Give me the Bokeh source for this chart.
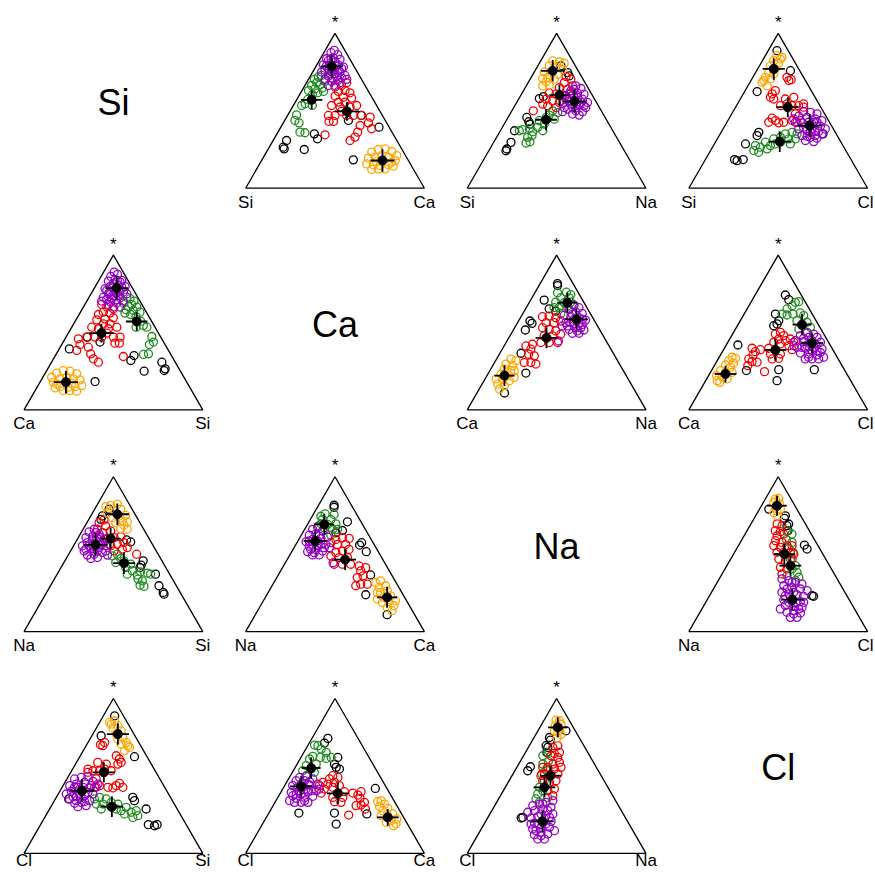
import math
from bokeh.plotting import figure
from bokeh.models import Range1d
from bokeh.embed import file_html
from bokeh.resources import INLINE
from bokeh.core.properties import value

# ---------------- data ----------------
PARTS = ["Si", "Ca", "Na", "Cl"]
GROUPS = ["black", "green", "red", "purple", "orange"]
MEAN_GROUPS = ["green", "red", "purple", "orange"]
COLORS = {"black": "#000000", "green": "#1f8c1f", "red": "#f00000",
          "purple": "#9400c4", "orange": "#ffa500"}

# Shares in percent for each pair (left part, right part, * = rest).
# right = share of the second part, top = share of "*"; left = 100 - right - top.

# --- Si / Ca ---
si_ca_black_right = [7.5, 7.8, 8.9, 20.3, 20.9, 24.3, 35.6, 41.1, 54.9, 51.1]
si_ca_black_top = [30.8, 26.5, 25.4, 25.0, 35.1, 31.9, 43.8, 47.0, 39.4, 18.3]
si_ca_green_right = [3.3, 4.8, 6.1, 5.7, 3.7, 8.2, 9.9, 6.7, 3.6, 9.5, 7.2, 12.3, 6.0, 4.6, 10.6, 6.1, 4.8, 5.7, 8.8, 12.3, 15.3, 10.6]
si_ca_green_top = [70.3, 71.8, 72.8, 68.1, 66.4, 66.8, 69.0, 64.2, 63.1, 61.6, 60.3, 62.5, 54.5, 53.4, 53.4, 57.3, 47.4, 43.8, 42.2, 36.2, 35.8, 64.7]
si_ca_red_right = [17.4, 20.5, 22.5, 20.7, 24.1, 27.6, 20.3, 25.3, 30.2, 24.1, 27.8, 21.4, 26.6, 32.2, 35.4, 22.8, 26.5, 25.1, 27.6, 33.0, 36.8, 41.4, 46.7, 47.6, 51.3, 44.6, 44.7, 43.0, 43.8, 27.2, 28.9]
si_ca_red_top = [65.3, 66.4, 68.1, 62.5, 63.1, 61.6, 59.5, 58.8, 58.2, 55.6, 55.6, 53.4, 52.4, 52.4, 53.4, 47.0, 47.0, 43.1, 43.1, 47.0, 47.0, 47.0, 45.9, 42.2, 38.4, 36.2, 33.0, 30.8, 40.5, 34.5, 49.6]
si_ca_purple_right = [5.1, 4.0, 8.4, 3.5, 7.0, 11.2, 3.6, 7.0, 12.0, 15.6, 6.3, 10.8, 15.3, 5.0, 10.1, 15.1, 19.2, 13.6, 18.8, 21.4, 9.3, 16.8, 13.1, 18.1, 11.2, 7.1,
                      6.0, 9.3, 5.0, 10.3, 13.8, 10.2, 12.7, 16.7, 15.1, 5.7, 13.0, 8.6]
si_ca_purple_top = [89.0, 87.5, 86.2, 83.6, 84.1, 83.2, 79.7, 80.4, 79.7, 78.2, 76.1, 75.4, 75.0, 75.0, 72.4, 71.8, 72.8, 69.0, 68.1, 70.3, 70.3, 66.4, 66.4, 71.3, 78.9, 77.6,
                    83.6, 81.5, 82.5, 77.6, 76.1, 73.9, 73.9, 69.6, 77.2, 79.3, 71.1, 76.1]
si_ca_orange_right = [58.9, 61.8, 65.3, 69.9, 74.0, 59.0, 62.4, 69.9, 74.7, 59.9, 63.9, 67.9, 72.3, 75.5, 64.5, 68.0, 71.8, 65.6, 64.7, 73.3]
si_ca_orange_top = [23.3, 25.0, 25.4, 23.7, 21.1, 19.4, 20.0, 20.0, 17.9, 15.7, 15.1, 14.7, 15.1, 14.2, 12.1, 12.5, 12.5, 21.1, 17.2, 16.8]
si_ca_mean_right = [8.4, 31.9, 8.8, 67.6]
si_ca_mean_top = [57.1, 49.6, 78.7, 17.9]
si_ca_sd_h = [6.0, 6.9, 6.3, 6.7]
si_ca_sd_v = [5.2, 5.2, 6.5, 6.3]

# --- Si / Na ---
si_na_black_right = [11.4, 13.0, 18.8, 20.8, 12.9, 10.5, 13.0, 14.4, 7.9, 9.7, 9.5, 9.6]
si_na_black_top = [57.9, 59.2, 74.7, 72.5, 79.0, 45.7, 42.9, 41.4, 37.1, 29.6, 25.3, 24.2]
si_na_green_right = [22.8, 26.2, 22.3, 21.3, 26.4, 18.5, 22.4, 19.8, 15.5, 12.1, 18.4, 23.7, 17.4, 19.3, 20.1, 18.3, 10.6]
si_na_green_top = [50.0, 48.9, 47.2, 45.7, 44.6, 43.6, 41.4, 39.3, 38.6, 37.8, 36.5, 37.1, 32.8, 33.9, 30.0, 29.2, 37.1]
si_na_red_right = [19.2, 22.8, 20.2, 25.9, 19.0, 24.2, 15.2, 19.3, 23.3, 15.4, 19.6, 23.8, 18.4, 23.6, 12.0, 27.3, 15.1]
si_na_red_top = [72.1, 70.4, 68.2, 66.1, 65.0, 63.9, 61.4, 60.7, 60.1, 57.5, 56.4, 55.4, 53.2, 52.1, 50.0, 61.4, 54.3]
si_na_purple_right = [27.7, 31.4, 26.5, 31.0, 35.0, 25.3, 30.6, 35.8, 39.6, 26.6, 30.8, 35.8, 40.3, 30.6, 35.8, 39.8, 28.6, 35.0, 39.0, 28.9, 33.8,
                      29.0, 32.4, 27.4, 32.9, 35.9, 34.2, 26.8, 38.8, 27.9, 28.3]
si_na_purple_top = [66.1, 64.4, 62.9, 61.4, 60.7, 59.7, 58.6, 57.5, 55.4, 55.4, 54.3, 53.6, 52.1, 51.1, 50.0, 49.4, 49.4, 47.9, 47.2, 56.4, 55.8,
                    60.7, 58.6, 57.5, 52.1, 55.4, 53.2, 60.7, 53.2, 63.9, 52.1]
si_na_orange_right = [6.7, 10.8, 13.9, 6.4, 10.4, 14.9, 5.6, 9.5, 13.8, 6.8, 9.3, 13.5, 9.2, 12.7, 9.8]
si_na_orange_top = [82.2, 81.5, 80.7, 79.0, 78.5, 76.8, 75.1, 74.7, 73.6, 70.8, 71.5, 70.4, 66.1, 66.5, 68.7]
si_na_mean_right = [22.0, 21.5, 32.0, 9.9]
si_na_mean_top = [44.2, 60.1, 56.0, 75.8]
si_na_sd_h = [6.1, 5.6, 6.7, 6.5]
si_na_sd_v = [6.0, 6.0, 6.5, 6.0]

# --- Si / Cl ---
si_cl_black_right = [4.9, 18.9, 7.0, 21.1, 21.2, 17.4, 16.3, 18.1, 21.2, 57.5]
si_cl_black_top = [88.8, 75.9, 62.4, 36.1, 34.0, 28.6, 18.5, 17.8, 18.5, 35.1]
si_cl_green_right = [36.5, 39.7, 43.0, 40.0, 43.7, 34.8, 31.6, 28.0, 31.9, 26.8, 23.5, 24.2, 27.5, 31.1, 36.4, 42.5, 34.1]
si_cl_green_top = [35.1, 36.1, 35.1, 31.8, 31.8, 32.9, 31.8, 29.7, 27.5, 26.5, 27.5, 24.3, 23.2, 25.4, 29.7, 28.6, 28.6]
si_cl_red_right = [19.1, 22.2, 21.2, 16.9, 16.2, 18.7, 16.3, 25.2, 29.4, 27.7, 31.1, 34.8, 37.0, 24.6, 24.0, 26.6, 29.2, 31.8, 23.4, 35.9, 39.2, 38.1, 35.6]
si_cl_red_top = [71.6, 70.1, 69.5, 63.0, 60.9, 57.6, 58.7, 57.6, 58.7, 54.4, 53.3, 53.3, 54.4, 53.3, 45.2, 43.7, 42.2, 42.6, 42.6, 43.7, 42.6, 52.3, 48.0]
si_cl_purple_right = [39.5, 43.5, 47.7, 38.2, 43.2, 48.4, 52.6, 38.3, 42.2, 48.2, 53.6, 57.2, 42.3, 47.5, 52.5, 57.0, 46.3, 51.5, 55.5, 49.8, 54.8, 36.3,
                      45.7, 48.5, 44.5, 49.8, 50.4, 50.0, 49.4, 54.3, 40.6, 53.8]
si_cl_purple_top = [49.5, 49.0, 48.0, 46.5, 45.8, 44.7, 43.7, 42.6, 42.2, 41.5, 40.0, 38.3, 38.3, 37.2, 36.6, 35.1, 34.0, 32.9, 32.3, 30.8, 30.1, 44.7,
                    42.6, 42.6, 39.4, 38.3, 42.6, 36.1, 33.5, 36.6, 43.7, 34.0]
si_cl_orange_right = [6.5, 9.9, 6.3, 9.8, 6.1, 9.9, 7.3, 10.6, 7.0, 10.4, 6.8, 10.7, 7.2, 9.5]
si_cl_orange_top = [85.6, 84.5, 82.4, 80.9, 79.1, 77.0, 74.8, 73.8, 71.6, 70.5, 68.4, 66.2, 69.5, 83.4]
si_cl_mean_right = [35.8, 29.2, 47.4, 9.0]
si_cl_mean_top = [30.1, 52.3, 40.4, 77.0]
si_cl_sd_h = [6.2, 6.2, 6.9, 6.2]
si_cl_sd_v = [5.8, 5.6, 6.5, 6.0]

# --- Ca / Na ---
ca_na_black_right = [9.7, 10.4, 7.6, 13.2, 17.6, 6.4, 8.3, 6.7, 11.8, 20.9, 15.4]
ca_na_black_top = [81.6, 80.3, 70.9, 65.3, 63.8, 57.4, 55.9, 51.6, 36.6, 23.8, 10.9]
ca_na_green_right = [12.7, 17.5, 20.7, 16.1, 20.8, 14.7, 19.6, 23.1, 18.4, 22.5, 21.2, 15.6, 25.2]
ca_na_green_top = [75.6, 76.0, 74.5, 72.4, 72.4, 69.6, 69.2, 69.6, 66.0, 67.0, 62.3, 66.0, 68.1]
ca_na_red_right = [12.0, 15.5, 19.8, 15.9, 20.5, 23.6, 15.6, 19.8, 24.0, 27.9, 23.8, 19.1, 19.5, 24.1, 15.3, 16.0, 12.2, 16.3, 20.1, 20.3, 23.6, 16.6, 28.8]
ca_na_red_top = [60.2, 60.6, 59.5, 56.3, 56.3, 57.4, 53.1, 52.0, 51.0, 48.8, 47.8, 47.8, 43.5, 43.5, 42.4, 39.2, 41.3, 36.0, 34.9, 30.6, 29.6, 30.6, 43.5]
ca_na_purple_right = [26.0, 29.5, 24.5, 29.1, 33.2, 23.7, 27.8, 32.8, 37.2, 27.0, 31.8, 36.8, 31.0, 36.1, 39.5, 34.1, 37.8, 26.1, 28.8,
                      30.5, 34.4, 29.8, 34.2, 37.0, 28.0, 35.2, 28.9]
ca_na_purple_top = [67.5, 66.0, 64.9, 63.2, 62.3, 61.0, 60.2, 59.5, 58.0, 56.3, 55.9, 55.2, 52.0, 51.0, 51.6, 49.5, 49.5, 54.2, 44.5,
                    58.5, 56.3, 56.3, 53.1, 53.1, 61.7, 58.5, 54.2]
ca_na_orange_right = [8.1, 11.4, 6.9, 11.2, 7.6, 11.8, 7.4, 11.6, 6.2, 10.1, 14.2, 8.7, 13.0, 11.3, 15.8, 13.7]
ca_na_orange_top = [32.8, 31.7, 29.6, 28.5, 26.3, 25.3, 23.1, 22.1, 19.9, 19.5, 18.8, 16.7, 15.6, 13.5, 21.0, 25.3]
ca_na_mean_right = [21.4, 21.1, 31.8, 9.8]
ca_na_mean_top = [69.2, 46.5, 58.5, 22.1]
ca_na_sd_h = [5.6, 6.1, 6.5, 5.6]
ca_na_sd_v = [5.8, 5.8, 5.8, 5.8]

# --- Ca / Cl ---
ca_cl_black_right = [16.9, 20.3, 17.5, 21.5, 21.6, 20.3, 6.5, 19.5, 37.3, 39.9, 57.2]
ca_cl_black_top = [74.2, 71.2, 61.9, 57.6, 55.5, 54.4, 41.9, 25.4, 26.0, 18.9, 26.0]
ca_cl_green_right = [24.8, 26.5, 24.1, 22.3, 21.2, 24.3, 27.3, 31.1, 33.8, 31.7, 37.8, 36.1, 41.4, 35.4, 41.1]
ca_cl_green_top = [69.5, 69.9, 67.3, 65.2, 61.9, 61.3, 61.9, 62.6, 60.9, 57.6, 56.6, 54.4, 53.3, 52.3, 50.1]
ca_cl_red_right = [23.9, 26.2, 29.1, 27.4, 31.7, 33.9, 25.7, 29.9, 35.2, 38.3, 24.8, 29.0, 27.6, 33.2, 33.6, 30.2, 20.6, 18.4, 15.5, 18.2, 17.1, 19.8, 22.8, 18.7, 30.0, 36.9]
ca_cl_red_top = [49.0, 50.1, 48.0, 45.8, 44.7, 45.8, 43.7, 42.6, 41.5, 38.9, 39.8, 38.9, 36.1, 36.1, 33.3, 32.9, 38.9, 37.6, 39.8, 35.5, 32.9, 31.2, 30.8, 28.6, 24.7, 43.7]
ca_cl_purple_right = [41.3, 45.3, 38.4, 43.6, 48.3, 37.3, 42.2, 46.6, 51.8, 40.3, 45.3, 49.6, 54.8, 44.0, 49.0, 54.0, 48.7, 52.5, 56.2, 38.0, 58.4,
                      46.7, 49.5, 45.4, 49.8, 52.6, 43.1, 50.0, 55.0, 41.1]
ca_cl_purple_top = [49.7, 49.0, 48.0, 46.9, 46.9, 44.7, 44.1, 44.7, 43.7, 40.4, 39.8, 40.4, 39.4, 36.8, 36.1, 35.5, 32.9, 32.9, 32.9, 41.5, 34.0,
                    42.6, 42.6, 41.5, 38.3, 38.3, 40.4, 34.0, 37.2, 46.2]
ca_cl_orange_right = [7.2, 9.5, 6.4, 9.9, 6.0, 9.6, 5.0, 8.4, 4.4, 8.1, 6.4, 11.4, 12.1, 8.4]
ca_cl_orange_top = [34.0, 33.3, 31.8, 30.3, 29.0, 27.5, 25.4, 24.3, 22.2, 21.1, 18.9, 20.0, 24.3, 17.8]
ca_cl_mean_right = [35.8, 29.1, 47.3, 8.9]
ca_cl_mean_top = [55.1, 38.7, 43.2, 23.2]
ca_cl_sd_h = [5.3, 6.1, 6.3, 6.1]
ca_cl_sd_v = [6.0, 6.0, 5.8, 4.7]

# --- Na / Cl ---
na_cl_black_right = [5.2, 16.6, 16.9, 20.7, 21.1, 22.9, 36.7, 39.5, 57.3, 58.4]
na_cl_black_top = [79.1, 74.8, 73.1, 68.4, 69.5, 65.2, 55.9, 53.3, 23.2, 22.8]
na_cl_green_right = [22.3, 26.2, 24.9, 28.9, 29.0, 32.7, 33.4, 38.3, 37.5, 41.4, 44.0, 43.2, 36.9]
na_cl_green_top = [65.2, 63.0, 59.4, 57.6, 53.8, 51.2, 46.9, 42.6, 40.4, 38.3, 35.1, 32.9, 36.1]
na_cl_red_right = [14.6, 17.9, 15.8, 19.0, 18.4, 21.6, 19.1, 23.3, 19.8, 24.0, 27.2, 30.0, 23.7, 27.5, 31.2, 26.9, 31.1, 34.3, 30.5, 34.7, 33.5, 33.7]
na_cl_red_top = [69.5, 68.4, 65.2, 64.5, 61.9, 63.0, 58.7, 57.6, 55.5, 54.4, 55.5, 55.5, 51.2, 51.2, 51.2, 46.9, 45.8, 46.9, 41.5, 40.4, 37.2, 50.1]
na_cl_purple_right = [35.1, 39.5, 43.7, 47.9, 38.3, 43.4, 48.7, 52.9, 39.4, 43.8, 48.7, 52.8, 42.8, 47.7, 52.7, 45.6, 50.6, 55.5, 48.7, 53.0, 56.4, 52.2, 55.9, 43.9,
                      41.2, 46.0, 45.7, 51.1, 46.5, 52.0, 54.2, 42.4, 54.8, 41.8]
na_cl_purple_top = [34.0, 32.9, 31.8, 30.8, 29.7, 28.6, 27.5, 26.5, 25.4, 24.3, 23.7, 22.8, 20.6, 20.0, 19.4, 16.8, 16.3, 15.7, 12.5, 11.4, 12.0, 9.2, 9.2, 14.6,
                    27.5, 25.4, 22.2, 18.9, 18.9, 13.5, 14.6, 23.2, 18.9, 31.8]
na_cl_orange_right = [5.6, 7.3, 5.8, 9.6, 8.3, 10.3, 11.7, 9.1, 12.4]
na_cl_orange_top = [85.6, 86.0, 83.4, 82.4, 80.2, 78.1, 79.1, 76.8, 74.6]
na_cl_mean_right = [35.5, 28.4, 47.6, 8.7]
na_cl_mean_top = [42.6, 50.1, 20.6, 81.3]
na_cl_sd_h = [6.1, 5.9, 6.3, 5.4]
na_cl_sd_v = [5.6, 5.6, 6.0, 5.6]

# ---------------- assemble ----------------
G = globals()
PAIRS = [(0, 1), (0, 2), (0, 3), (1, 2), (1, 3), (2, 3)]


def pair_data(i, j):
    key = PARTS[i].lower() + "_" + PARTS[j].lower()
    d = {"groups": {}}
    for g in GROUPS:
        d["groups"][g] = (G[key + "_" + g + "_right"], G[key + "_" + g + "_top"])
    d["mean"] = (G[key + "_mean_right"], G[key + "_mean_top"])
    d["sd"] = (G[key + "_sd_h"], G[key + "_sd_v"])
    return d


# layout (pixel positions of the triangles in the page)
COL_X0 = [23.5, 245.1, 466.7, 688.3]
ROW_Y0 = [187.7, 409.4, 631.1, 852.8]
SIDE = 178.8
H = math.sqrt(3) / 2
FONT = value("Liberation Sans")
W_PX, H_PX = 875, 872

p = figure(width=W_PX, height=H_PX, x_range=Range1d(0, W_PX), y_range=Range1d(-H_PX, 0),
           output_backend="svg", toolbar_location=None, min_border=0,
           x_axis_type=None, y_axis_type=None)
p.grid.visible = False
p.outline_line_color = None
p.background_fill_color = "white"
p.border_fill_color = "white"


def to_xy(row, col, right, top):
    x0, y0 = COL_X0[col], ROW_Y0[row]
    xs = [x0 + SIDE * (r + t / 2.0) / 100.0 for r, t in zip(right, top)]
    ys = [-(y0 - SIDE * H * t / 100.0) for t in top]
    return xs, ys


tri_xs, tri_ys = [], []
lab_x, lab_y, lab_t = [], [], []
star_x, star_y = [], []
for row in range(4):
    for col in range(4):
        x0, y0 = COL_X0[col], ROW_Y0[row]
        if row == col:
            continue
        tri_xs.append([x0, x0 + SIDE, x0 + SIDE / 2, x0])
        tri_ys.append([-y0, -y0, -(y0 - SIDE * H), -y0])
        base = min(y0 + 14, H_PX - 12)
        lab_x += [x0, min(x0 + SIDE, W_PX - 10)]
        lab_y += [-base, -base]
        lab_t += [PARTS[row], PARTS[col]]
        star_x.append(x0 + SIDE / 2)
        star_y.append(-(y0 - SIDE * H - 11))

p.multi_line(tri_xs, tri_ys, line_color="black", line_width=1.3)

for (i, j) in PAIRS:
    d = pair_data(i, j)
    for mirrored in (False, True):
        row, col = (j, i) if mirrored else (i, j)
        for g in GROUPS:
            right, top = d["groups"][g]
            if mirrored:
                right = [100.0 - r - t for r, t in zip(right, top)]
            xs, ys = to_xy(row, col, right, top)
            p.scatter(xs, ys, marker="circle", size=8, fill_color=None,
                      line_color=COLORS[g], line_width=1.3)
        mr, mt = d["mean"]
        if mirrored:
            mr = [100.0 - r - t for r, t in zip(mr, mt)]
        xs, ys = to_xy(row, col, mr, mt)
        sh, sv = d["sd"]
        dx = [SIDE * s / 100.0 for s in sh]
        dy = [SIDE * s / 100.0 for s in sv]
        p.segment([x - a for x, a in zip(xs, dx)], ys, [x + a for x, a in zip(xs, dx)], ys,
                  line_color="black", line_width=1.8)
        p.segment(xs, [y - a for y, a in zip(ys, dy)], xs, [y + a for y, a in zip(ys, dy)],
                  line_color="black", line_width=1.8)
        p.scatter(xs, ys, marker="circle", size=9, fill_color="black", line_color="black")

p.text(lab_x, lab_y, text=lab_t, text_font=FONT, text_font_size="17px",
       text_align="center", text_baseline="alphabetic", text_color="black")
p.text(star_x, star_y, text=["*"] * len(star_x), text_font=FONT, text_font_size="17px",
       text_align="center", text_baseline="alphabetic", text_color="black")

diag_x = [COL_X0[k] + SIDE / 2 for k in range(4)]
diag_y = [-(ROW_Y0[k] - 85.5) for k in range(4)]
p.text(diag_x, diag_y, text=PARTS, text_font=FONT, text_font_size="36px",
       text_align="center", text_baseline="alphabetic", text_color="black")

open("out.html", "w").write(file_html(p, INLINE))
